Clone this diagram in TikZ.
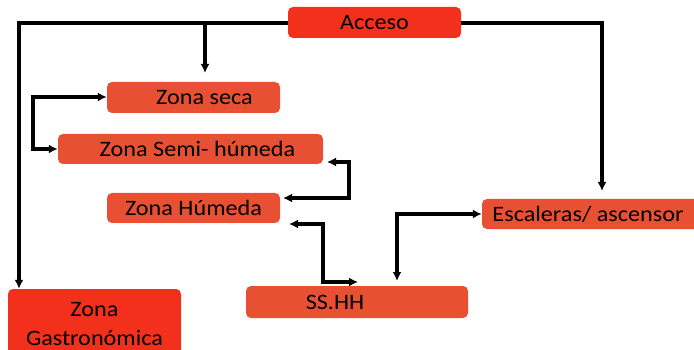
\documentclass[tikz,border=0pt]{standalone}
\usepackage{fontspec}
\setmainfont[FakeStretch=1.1]{Carlito}
\usetikzlibrary{arrows.meta}
\definecolor{hotred}{HTML}{F2301C}
\definecolor{zonered}{HTML}{E85033}
\tikzset{
  box/.style={rounded corners=5pt, inner sep=0pt, font=\fontsize{22}{28.5}\selectfont, text=black},
  mainbox/.style={box, fill=hotred},
  zonebox/.style={box, fill=zonered},
  link/.style={line width=3.2pt, black, -{Latex[length=9pt,width=9pt]}},
  twoway/.style={line width=3.2pt, black, {Latex[length=9pt,width=9pt]}-{Latex[length=9pt,width=9pt]}}
}
\begin{document}
\begin{tikzpicture}[x=1pt,y=-1pt]
\useasboundingbox (0,0) rectangle (694,350);

% boxes
\node[mainbox, minimum width=173pt, minimum height=31pt] (acceso) at (374.5,22.5) {Acceso};
\node[zonebox, minimum width=173pt, minimum height=31pt] (seca) at (193.5,97.5) {\hspace*{22pt}Zona seca};
\node[zonebox, minimum width=265pt, minimum height=30pt] (semi) at (190.5,149) {\hspace*{14pt}Zona Semi- húmeda};
\node[zonebox, minimum width=173pt, minimum height=30pt] (humeda) at (193.5,208) {Zona Húmeda};
\node[zonebox, minimum width=222pt, minimum height=32pt] (sshh) at (357,302) {\hspace*{-44pt}SS.HH};
\node[zonebox, minimum width=226pt, minimum height=30pt] (escal) at (595,214) {\hspace*{-14pt}Escaleras/ ascensor};
\node[mainbox, minimum width=173pt, minimum height=70pt, align=center] (gastro) at (94.5,324) {Zona\\Gastronómica};

% free ends of connectors
\coordinate (secatop) at (205,73);
\coordinate (escaltop) at (602,191);
\coordinate (semiright) at (327,162);
\coordinate (humright) at (283,198);
\coordinate (humlow) at (289,224);
\coordinate (sshhleft) at (358,282);
\coordinate (sshhtop) at (397,281);

% connectors
\draw[link] (acceso.west |- 0,23) -| (gastro.north -| 19,0);
\draw[link] (205,23) -- (secatop);
\draw[link] (acceso.east |- 0,23) -| (escaltop);
\draw[twoway] (seca.west |- 0,97) -| (33,149) -- (semi.west |- 0,149);
\draw[twoway] (semiright) -| (349,198) -- (humright);
\draw[twoway] (humlow) -| (323,282) -- (sshhleft);
\draw[twoway] (sshhtop) |- (escal.west |- 0,214);
\end{tikzpicture}
\end{document}
